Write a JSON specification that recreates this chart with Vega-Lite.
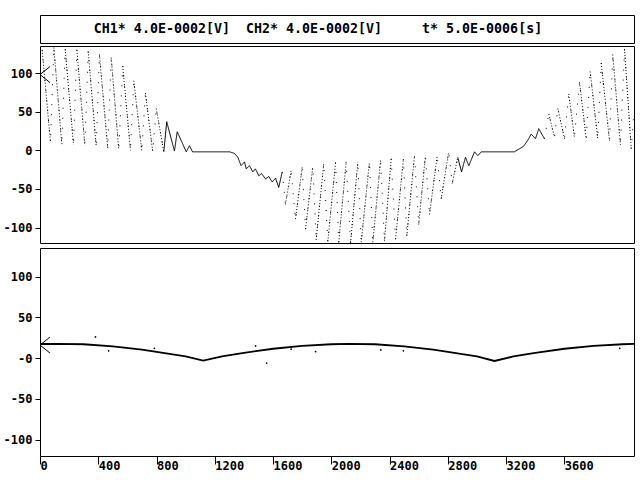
{
  "$schema": "https://vega.github.io/schema/vega-lite/v6.json",
  "background": "white",
  "padding": {"top": 14, "left": 2, "right": 0, "bottom": 0},
  "config": {
    "view": {"stroke": "black", "strokeWidth": 1},
    "axis": {
      "labelFont": "DejaVu Sans Mono",
      "labelFontWeight": "bold",
      "labelFontSize": 12,
      "labelColor": "black",
      "tickColor": "black",
      "domain": false,
      "grid": false,
      "title": null
    }
  },
  "datasets": {
    "ch1": [
      {"t": 0, "v": 118, "g": "A", "k": "sparse"}, {"t": 15, "v": 130, "g": "A", "k": "sparse"}, {"t": 72, "v": 10, "g": "A", "k": "sparse"},
      {"t": 95, "v": 133, "g": "A", "k": "sparse"}, {"t": 150, "v": 8, "g": "A", "k": "sparse"}, {"t": 173, "v": 131, "g": "A", "k": "sparse"},
      {"t": 230, "v": 7, "g": "A", "k": "sparse"}, {"t": 253, "v": 130, "g": "A", "k": "sparse"}, {"t": 308, "v": 6, "g": "A", "k": "sparse"},
      {"t": 331, "v": 128, "g": "A", "k": "sparse"}, {"t": 386, "v": 5, "g": "A", "k": "sparse"}, {"t": 408, "v": 124, "g": "A", "k": "sparse"},
      {"t": 465, "v": 3, "g": "A", "k": "sparse"}, {"t": 489, "v": 120, "g": "A", "k": "sparse"}, {"t": 541, "v": 0, "g": "A", "k": "sparse"},
      {"t": 568, "v": 109, "g": "A", "k": "sparse"}, {"t": 621, "v": 0, "g": "A", "k": "sparse"}, {"t": 644, "v": 90, "g": "A", "k": "sparse"},
      {"t": 699, "v": -1, "g": "A", "k": "sparse"}, {"t": 724, "v": 74, "g": "A", "k": "sparse"}, {"t": 774, "v": -2, "g": "A", "k": "sparse"},
      {"t": 798, "v": 54, "g": "A", "k": "sparse"}, {"t": 850, "v": -2, "g": "A", "k": "sparse"},
      {"t": 15, "v": 130, "g": "a1", "k": "dot"}, {"t": 72, "v": 10, "g": "a1", "k": "dot"},
      {"t": 95, "v": 133, "g": "a2", "k": "dot"}, {"t": 150, "v": 8, "g": "a2", "k": "dot"},
      {"t": 173, "v": 131, "g": "a3", "k": "dot"}, {"t": 230, "v": 7, "g": "a3", "k": "dot"},
      {"t": 253, "v": 130, "g": "a4", "k": "dot"}, {"t": 308, "v": 6, "g": "a4", "k": "dot"},
      {"t": 331, "v": 128, "g": "a5", "k": "dot"}, {"t": 386, "v": 5, "g": "a5", "k": "dot"},
      {"t": 408, "v": 124, "g": "a6", "k": "dot"}, {"t": 465, "v": 3, "g": "a6", "k": "dot"},
      {"t": 489, "v": 120, "g": "a7", "k": "dot"}, {"t": 541, "v": 0, "g": "a7", "k": "dot"},
      {"t": 568, "v": 109, "g": "a8", "k": "dot"}, {"t": 621, "v": 0, "g": "a8", "k": "dot"},
      {"t": 644, "v": 90, "g": "a9", "k": "dot"}, {"t": 699, "v": -1, "g": "a9", "k": "dot"},
      {"t": 724, "v": 74, "g": "a10", "k": "dot"}, {"t": 774, "v": -2, "g": "a10", "k": "dot"},
      {"t": 798, "v": 54, "g": "a11", "k": "dot"}, {"t": 850, "v": -2, "g": "a11", "k": "dot"},
      {"t": 850, "v": -2, "g": "B", "k": "solid"}, {"t": 870, "v": 37, "g": "B", "k": "solid"}, {"t": 923, "v": -1, "g": "B", "k": "solid"},
      {"t": 942, "v": 24, "g": "B", "k": "solid"}, {"t": 1004, "v": -2, "g": "B", "k": "solid"}, {"t": 1026, "v": 6, "g": "B", "k": "solid"},
      {"t": 1047, "v": -2, "g": "B", "k": "solid"}, {"t": 1302, "v": -2, "g": "B", "k": "solid"}, {"t": 1335, "v": -4, "g": "B", "k": "solid"},
      {"t": 1358, "v": -9, "g": "B", "k": "solid"}, {"t": 1381, "v": -20, "g": "B", "k": "solid"}, {"t": 1404, "v": -15, "g": "B", "k": "solid"},
      {"t": 1416, "v": -24, "g": "B", "k": "solid"}, {"t": 1438, "v": -20, "g": "B", "k": "solid"}, {"t": 1461, "v": -28, "g": "B", "k": "solid"},
      {"t": 1479, "v": -24, "g": "B", "k": "solid"}, {"t": 1502, "v": -33, "g": "B", "k": "solid"}, {"t": 1521, "v": -30, "g": "B", "k": "solid"},
      {"t": 1548, "v": -37, "g": "B", "k": "solid"}, {"t": 1571, "v": -34, "g": "B", "k": "solid"}, {"t": 1594, "v": -41, "g": "B", "k": "solid"},
      {"t": 1617, "v": -36, "g": "B", "k": "solid"}, {"t": 1639, "v": -48, "g": "B", "k": "solid"}, {"t": 1663, "v": -28, "g": "B", "k": "solid"},
      {"t": 1663, "v": -28, "g": "C", "k": "sparse"}, {"t": 1685, "v": -70, "g": "C", "k": "sparse"}, {"t": 1724, "v": -26, "g": "C", "k": "sparse"},
      {"t": 1754, "v": -89, "g": "C", "k": "sparse"}, {"t": 1800, "v": -22, "g": "C", "k": "sparse"}, {"t": 1823, "v": -102, "g": "C", "k": "sparse"},
      {"t": 1873, "v": -21, "g": "C", "k": "sparse"}, {"t": 1896, "v": -116, "g": "C", "k": "sparse"}, {"t": 1948, "v": -17, "g": "C", "k": "sparse"},
      {"t": 1976, "v": -118, "g": "C", "k": "sparse"}, {"t": 2029, "v": -16, "g": "C", "k": "sparse"}, {"t": 2051, "v": -119, "g": "C", "k": "sparse"},
      {"t": 2102, "v": -15, "g": "C", "k": "sparse"}, {"t": 2132, "v": -120, "g": "C", "k": "sparse"}, {"t": 2182, "v": -15, "g": "C", "k": "sparse"},
      {"t": 2205, "v": -119, "g": "C", "k": "sparse"}, {"t": 2262, "v": -15, "g": "C", "k": "sparse"}, {"t": 2285, "v": -119, "g": "C", "k": "sparse"},
      {"t": 2338, "v": -13, "g": "C", "k": "sparse"}, {"t": 2365, "v": -117, "g": "C", "k": "sparse"}, {"t": 2411, "v": -11, "g": "C", "k": "sparse"},
      {"t": 2441, "v": -115, "g": "C", "k": "sparse"}, {"t": 2495, "v": -11, "g": "C", "k": "sparse"}, {"t": 2518, "v": -111, "g": "C", "k": "sparse"},
      {"t": 2571, "v": -7, "g": "C", "k": "sparse"}, {"t": 2600, "v": -96, "g": "C", "k": "sparse"}, {"t": 2646, "v": -7, "g": "C", "k": "sparse"},
      {"t": 2674, "v": -83, "g": "C", "k": "sparse"}, {"t": 2727, "v": -7, "g": "C", "k": "sparse"}, {"t": 2754, "v": -63, "g": "C", "k": "sparse"},
      {"t": 2806, "v": -2, "g": "C", "k": "sparse"}, {"t": 2830, "v": -43, "g": "C", "k": "sparse"}, {"t": 2868, "v": -9, "g": "C", "k": "sparse"},
      {"t": 1685, "v": -70, "g": "c1", "k": "dot"}, {"t": 1724, "v": -26, "g": "c1", "k": "dot"},
      {"t": 1754, "v": -89, "g": "c2", "k": "dot"}, {"t": 1800, "v": -22, "g": "c2", "k": "dot"},
      {"t": 1823, "v": -102, "g": "c3", "k": "dot"}, {"t": 1873, "v": -21, "g": "c3", "k": "dot"},
      {"t": 1896, "v": -116, "g": "c4", "k": "dot"}, {"t": 1948, "v": -17, "g": "c4", "k": "dot"},
      {"t": 1976, "v": -118, "g": "c5", "k": "dot"}, {"t": 2029, "v": -16, "g": "c5", "k": "dot"},
      {"t": 2051, "v": -119, "g": "c6", "k": "dot"}, {"t": 2102, "v": -15, "g": "c6", "k": "dot"},
      {"t": 2132, "v": -120, "g": "c7", "k": "dot"}, {"t": 2182, "v": -15, "g": "c7", "k": "dot"},
      {"t": 2205, "v": -119, "g": "c8", "k": "dot"}, {"t": 2262, "v": -15, "g": "c8", "k": "dot"},
      {"t": 2285, "v": -119, "g": "c9", "k": "dot"}, {"t": 2338, "v": -13, "g": "c9", "k": "dot"},
      {"t": 2365, "v": -117, "g": "c10", "k": "dot"}, {"t": 2411, "v": -11, "g": "c10", "k": "dot"},
      {"t": 2441, "v": -115, "g": "c11", "k": "dot"}, {"t": 2495, "v": -11, "g": "c11", "k": "dot"},
      {"t": 2518, "v": -111, "g": "c12", "k": "dot"}, {"t": 2571, "v": -7, "g": "c12", "k": "dot"},
      {"t": 2600, "v": -96, "g": "c13", "k": "dot"}, {"t": 2646, "v": -7, "g": "c13", "k": "dot"},
      {"t": 2674, "v": -83, "g": "c14", "k": "dot"}, {"t": 2727, "v": -7, "g": "c14", "k": "dot"},
      {"t": 2754, "v": -63, "g": "c15", "k": "dot"}, {"t": 2806, "v": -2, "g": "c15", "k": "dot"},
      {"t": 2830, "v": -43, "g": "c16", "k": "dot"}, {"t": 2868, "v": -9, "g": "c16", "k": "dot"},
      {"t": 2868, "v": -9, "g": "D", "k": "solid"}, {"t": 2894, "v": -28, "g": "D", "k": "solid"}, {"t": 2921, "v": -9, "g": "D", "k": "solid"},
      {"t": 2944, "v": -20, "g": "D", "k": "solid"}, {"t": 2983, "v": -2, "g": "D", "k": "solid"}, {"t": 3006, "v": -7, "g": "D", "k": "solid"},
      {"t": 3029, "v": -2, "g": "D", "k": "solid"}, {"t": 3257, "v": -2, "g": "D", "k": "solid"}, {"t": 3292, "v": 2, "g": "D", "k": "solid"},
      {"t": 3319, "v": 5, "g": "D", "k": "solid"}, {"t": 3349, "v": 13, "g": "D", "k": "solid"}, {"t": 3372, "v": 21, "g": "D", "k": "solid"},
      {"t": 3402, "v": 15, "g": "D", "k": "solid"}, {"t": 3424, "v": 28, "g": "D", "k": "solid"}, {"t": 3463, "v": 15, "g": "D", "k": "solid"},
      {"t": 3463, "v": 15, "g": "E", "k": "sparse"}, {"t": 3493, "v": 47, "g": "E", "k": "sparse"}, {"t": 3532, "v": 17, "g": "E", "k": "sparse"},
      {"t": 3555, "v": 54, "g": "E", "k": "sparse"}, {"t": 3601, "v": 15, "g": "E", "k": "sparse"}, {"t": 3630, "v": 73, "g": "E", "k": "sparse"},
      {"t": 3669, "v": 17, "g": "E", "k": "sparse"}, {"t": 3704, "v": 88, "g": "E", "k": "sparse"}, {"t": 3750, "v": 15, "g": "E", "k": "sparse"},
      {"t": 3777, "v": 102, "g": "E", "k": "sparse"}, {"t": 3829, "v": 15, "g": "E", "k": "sparse"}, {"t": 3853, "v": 113, "g": "E", "k": "sparse"},
      {"t": 3910, "v": 12, "g": "E", "k": "sparse"}, {"t": 3932, "v": 124, "g": "E", "k": "sparse"}, {"t": 3985, "v": 7, "g": "E", "k": "sparse"},
      {"t": 4013, "v": 131, "g": "E", "k": "sparse"}, {"t": 4059, "v": 2, "g": "E", "k": "sparse"}, {"t": 4074, "v": 40, "g": "E", "k": "sparse"},
      {"t": 3493, "v": 47, "g": "e1", "k": "dot"}, {"t": 3532, "v": 17, "g": "e1", "k": "dot"},
      {"t": 3555, "v": 54, "g": "e2", "k": "dot"}, {"t": 3601, "v": 15, "g": "e2", "k": "dot"},
      {"t": 3630, "v": 73, "g": "e3", "k": "dot"}, {"t": 3669, "v": 17, "g": "e3", "k": "dot"},
      {"t": 3704, "v": 88, "g": "e4", "k": "dot"}, {"t": 3750, "v": 15, "g": "e4", "k": "dot"},
      {"t": 3777, "v": 102, "g": "e5", "k": "dot"}, {"t": 3829, "v": 15, "g": "e5", "k": "dot"},
      {"t": 3853, "v": 113, "g": "e6", "k": "dot"}, {"t": 3910, "v": 12, "g": "e6", "k": "dot"},
      {"t": 3932, "v": 124, "g": "e7", "k": "dot"}, {"t": 3985, "v": 7, "g": "e7", "k": "dot"},
      {"t": 4013, "v": 131, "g": "e8", "k": "dot"}, {"t": 4059, "v": 2, "g": "e8", "k": "dot"}
    ],
    "ch2": [
      {"t": 0, "v": 17.3}, {"t": 120, "v": 17.5}, {"t": 300, "v": 17}, {"t": 500, "v": 14.5},
      {"t": 700, "v": 10.5}, {"t": 900, "v": 5}, {"t": 1000, "v": 2}, {"t": 1120, "v": -3},
      {"t": 1250, "v": 2}, {"t": 1400, "v": 6.5}, {"t": 1600, "v": 11.5}, {"t": 1800, "v": 15},
      {"t": 2000, "v": 17}, {"t": 2120, "v": 17.5}, {"t": 2300, "v": 17}, {"t": 2500, "v": 14.5},
      {"t": 2700, "v": 10.5}, {"t": 2900, "v": 5}, {"t": 3000, "v": 2}, {"t": 3120, "v": -3.5},
      {"t": 3250, "v": 2}, {"t": 3400, "v": 6.5}, {"t": 3600, "v": 11.5}, {"t": 3800, "v": 15},
      {"t": 4000, "v": 17}, {"t": 4078, "v": 17.5}
    ],
    "ch2dots": [
      {"t": 381, "v": 26}, {"t": 471, "v": 9}, {"t": 785, "v": 12}, {"t": 1480, "v": 15},
      {"t": 1556, "v": -6}, {"t": 1724, "v": 11}, {"t": 1892, "v": 8}, {"t": 2340, "v": 10},
      {"t": 2495, "v": 9}, {"t": 3980, "v": 12}
    ]
  },
  "spacing": 1,
  "vconcat": [
    {
      "width": 594,
      "height": 28,
      "data": {"values": [{"label": "CH1*\u00a04.0E-0002[V]\u00a0\u00a0CH2*\u00a04.0E-0002[V]\u00a0\u00a0\u00a0\u00a0\u00a0t*\u00a05.0E-0006[s]", "px": 0.5, "py": 0.5}]},
      "mark": {"type": "text", "font": "DejaVu Sans Mono", "fontWeight": "bold", "fontSize": 13.3, "dx": -19, "baseline": "middle", "color": "black"},
      "encoding": {
        "x": {"field": "px", "type": "quantitative", "scale": {"domain": [0, 1]}, "axis": null},
        "y": {"field": "py", "type": "quantitative", "scale": {"domain": [0, 1]}, "axis": null},
        "text": {"field": "label"}
      }
    },
    {
      "spacing": 3,
      "vconcat": [
        {
          "width": 594,
          "height": 197,
          "layer": [
            {
              "data": {"name": "ch1"},
              "mark": {"type": "line", "strokeWidth": 1, "color": "black", "clip": true},
              "encoding": {
                "x": {"field": "t", "type": "quantitative", "scale": {"domain": [0, 4078], "nice": false}, "axis": null},
                "y": {
                  "field": "v", "type": "quantitative",
                  "scale": {"domain": [-120, 135], "nice": false, "zero": false},
                  "axis": {"values": [-100, -50, 0, 50, 100], "tickSize": 5, "labelPadding": 3, "labelFontWeight": "bold", "labelExpr": "'' + datum.value"}
                },
                "detail": {"field": "g", "type": "nominal"},
                "strokeDash": {
                  "field": "k", "type": "nominal",
                  "scale": {"domain": ["solid", "dot", "sparse"], "range": [[1, 0], [1, 2], [1, 9]]},
                  "legend": null
                }
              }
            },
            {
              "mark": {"type": "rule", "strokeDash": [5, 3], "color": "black", "strokeWidth": 1},
              "encoding": {"y": {"datum": 0}}
            },
            {
              "data": {"values": [{"t": 0, "v": 98}]},
              "mark": {"type": "point", "shape": "M2,-1.6L0,0L2,1.6", "size": 100, "filled": false, "stroke": "black", "strokeWidth": 1, "opacity": 1},
              "encoding": {"x": {"field": "t", "type": "quantitative"}, "y": {"field": "v", "type": "quantitative"}}
            }
          ]
        },
        {
          "width": 594,
          "height": 208,
          "layer": [
            {
              "data": {"name": "ch2"},
              "mark": {"type": "line", "strokeWidth": 1.8, "color": "black", "clip": true},
              "encoding": {
                "x": {
                  "field": "t", "type": "quantitative", "scale": {"domain": [0, 4078], "nice": false},
                  "axis": {"values": [0, 400, 800, 1200, 1600, 2000, 2400, 2800, 3200, 3600], "format": "d", "tickSize": 8, "labelAlign": "left", "labelBaseline": "top", "labelPadding": -4, "labelDx": 1, "labelFlush": false, "labelFontWeight": "bold"}
                },
                "y": {
                  "field": "v", "type": "quantitative",
                  "scale": {"domain": [-120, 135], "nice": false, "zero": false},
                  "axis": {"values": [-100, -50, 0, 50, 100], "tickSize": 5, "labelPadding": 3, "labelFontWeight": "bold", "labelExpr": "datum.value == 0 ? '-0' : '' + datum.value"}
                }
              }
            },
            {
              "data": {"name": "ch2dots"},
              "mark": {"type": "point", "filled": true, "size": 3, "color": "black", "opacity": 1},
              "encoding": {"x": {"field": "t", "type": "quantitative"}, "y": {"field": "v", "type": "quantitative"}}
            },
            {
              "mark": {"type": "rule", "strokeDash": [5, 3], "color": "black", "strokeWidth": 1},
              "encoding": {"y": {"datum": 0}}
            },
            {
              "data": {"values": [{"t": 0, "v": 16}]},
              "mark": {"type": "point", "shape": "M2,-1.6L0,0L2,1.6", "size": 100, "filled": false, "stroke": "black", "strokeWidth": 1, "opacity": 1},
              "encoding": {"x": {"field": "t", "type": "quantitative"}, "y": {"field": "v", "type": "quantitative"}}
            }
          ]
        }
      ]
    }
  ]
}
